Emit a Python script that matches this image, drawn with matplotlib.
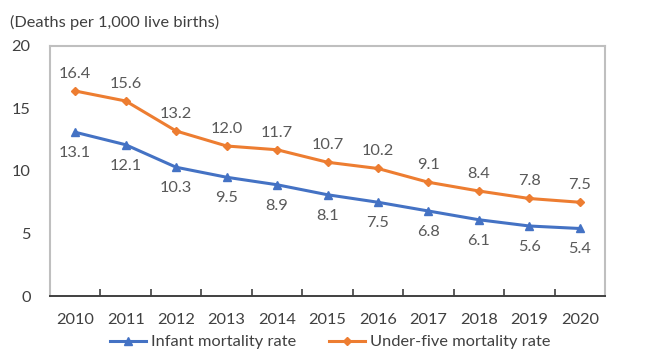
import matplotlib
matplotlib.use('Agg')
import matplotlib.pyplot as plt
from matplotlib.ticker import FixedLocator

plt.rcParams['font.family'] = ['Lato', 'DejaVu Sans']

# data
years = ['2010', '2011', '2012', '2013', '2014', '2015', '2016', '2017', '2018', '2019', '2020']
infant = [13.1, 12.1, 10.3, 9.5, 8.9, 8.1, 7.5, 6.8, 6.1, 5.6, 5.4]
under_five = [16.4, 15.6, 13.2, 12.0, 11.7, 10.7, 10.2, 9.1, 8.4, 7.8, 7.5]
y_ticks = [0, 5, 10, 15, 20]

blue = '#4472C4'
orange = '#ED7D31'
text_col = '#404040'
label_col = '#595959'
fs = 11.8

fig = plt.figure(figsize=(6.6, 3.54), dpi=100)
ax = fig.add_axes([50 / 660, 1 - 296 / 354, 555 / 660, 250 / 354])

x = list(range(len(years)))
ax.plot(x, infant, color=blue, lw=2.2, marker='^', ms=6, label='Infant mortality rate')
ax.plot(x, under_five, color=orange, lw=2.2, marker='D', ms=4, label='Under-five mortality rate')

# data labels: orange above, blue below
for xi, v in zip(x, under_five):
    ax.annotate(f'{v:.1f}', (xi, v), xytext=(0, 17), textcoords='offset pixels',
                ha='center', va='center', fontsize=fs, color=label_col)
for xi, v in zip(x, infant):
    ax.annotate(f'{v:.1f}', (xi, v), xytext=(0, -21), textcoords='offset pixels',
                ha='center', va='center', fontsize=fs, color=label_col)

ax.set_xlim(-0.5, len(years) - 0.5)
ax.set_ylim(0, 20)
ax.set_yticks(y_ticks)
ax.set_xticks(x)
ax.set_xticklabels(years)
ax.xaxis.set_minor_locator(FixedLocator([i + 0.5 for i in range(-1, len(years))]))
ax.tick_params(axis='x', which='major', length=0, pad=12, labelsize=fs, labelcolor=text_col)
ax.tick_params(axis='x', which='minor', direction='in', length=5, width=1.2, color='#404040')
ax.tick_params(axis='y', length=0, pad=14, labelsize=fs, labelcolor=text_col)

for side in ['top', 'right', 'left']:
    ax.spines[side].set_color('#bfbfbf')
    ax.spines[side].set_linewidth(1.5)
ax.spines['bottom'].set_color('#404040')
ax.spines['bottom'].set_linewidth(1.4)

fig.text(10 / 660, 1 - 22 / 354, '(Deaths per 1,000 live births)', fontsize=fs,
         color=text_col, va='center', ha='left')

fig.legend(loc='center', bbox_to_anchor=(0.5, 1 - 342 / 354), ncol=2, frameon=False,
           fontsize=fs, labelcolor=text_col, handlelength=2.2, handletextpad=0.3,
           columnspacing=2.0)

fig.savefig('out.png', dpi=100)
